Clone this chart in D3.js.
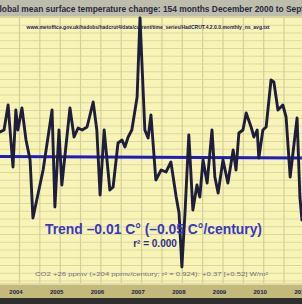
<!DOCTYPE html>
<html><head><meta charset="utf-8">
<script src="https://cdn.jsdelivr.net/npm/d3@7"></script>
<style>html,body{margin:0;padding:0;background:#fff;overflow:hidden}</style>
</head><body>
<svg id="c" width="302" height="304"></svg>
<script>
// ---- data ----
const years = [2003.52,2003.62,2003.72,2003.84,2003.91,2003.96,2004.06,2004.16,2004.26,2004.33,
  2004.58,2004.80,2004.87,2004.97,2005.04,2005.24,2005.34,2005.44,2005.54,2005.66,
  2005.81,2005.90,2005.98,2006.08,2006.22,2006.30,2006.42,2006.52,2006.59,2006.67,
  2006.76,2006.89,2006.96,2007.08,2007.16,2007.23,2007.35,2007.48,2007.60,2007.72,
  2007.85,2007.92,2007.99,2008.07,2008.16,2008.26,2008.36,2008.43,2008.51,2008.61,
  2008.73,2008.80,2008.88,2009.00,2009.12,2009.25,2009.32,2009.39,2009.49,2009.57,
  2009.69,2009.76,2009.84,2009.88,2009.98,2010.06,2010.18,2010.25,2010.35,2010.47,
  2010.55,2010.65,2010.82,2010.89,2010.94];
const anomalies = [0.450,0.454,0.504,0.380,0.494,0.454,0.498,0.434,0.394,0.278,
  0.374,0.494,0.300,0.454,0.344,0.498,0.440,0.458,0.454,0.460,
  0.510,0.454,0.324,0.454,0.334,0.340,0.428,0.434,0.420,0.440,
  0.454,0.520,0.678,0.454,0.438,0.484,0.354,0.374,0.370,0.390,
  0.320,0.288,0.180,0.294,0.444,0.294,0.344,0.320,0.394,0.348,
  0.454,0.360,0.328,0.394,0.348,0.414,0.374,0.448,0.454,0.488,
  0.460,0.440,0.454,0.398,0.454,0.460,0.554,0.550,0.494,0.504,
  0.480,0.360,0.478,0.320,0.274];
const yearLabels = ["2004","2005","2006","2007","2008","2009","2010","2011"];
const trendYears = [2003.52, 2010.94];
const trendValues = [0.401, 0.398];
const titleText = "Global mean surface temperature change: 154 months December 2000 to September 2013";
const sourceText = "www.metoffice.gov.uk/hadobs/hadcrut4/data/current/time_series/HadCRUT.4.2.0.0.monthly_ns_avg.txt";
const trendText = "Trend \u20130.01 C\u00B0 (\u20130.05 C\u00B0/century)";
const r2Text = "r\u00B2 = 0.000";
const co2Text = "CO2 +26 ppmv (+204 ppmv/century; r\u00B2 = 0.924): +0.37 [+0.52] W/m\u00B2";

// ---- layout ----
const W = 302, H = 304;
const plotTop = 17, plotBottom = 283, bandBottom = 298;
const svg = d3.select("#c");
const x = d3.scaleLinear().domain([2004, 2011]).range([19.5, 304.4]);
const y = d3.scaleLinear().domain([0, 0.6]).range([357, 57]);

// backgrounds
svg.append("rect").attr("x",0).attr("y",0).attr("width",W).attr("height",plotTop).attr("fill","#bdbcad");
svg.append("rect").attr("x",0).attr("y",plotTop).attr("width",W).attr("height",plotBottom-plotTop).attr("fill","#f8f4b6");
svg.append("rect").attr("x",0).attr("y",plotBottom).attr("width",W).attr("height",bandBottom-plotBottom).attr("fill","#c2b97b");
svg.append("rect").attr("x",0).attr("y",plotBottom).attr("width",W).attr("height",2).attr("fill","#e0daa6");
svg.append("rect").attr("x",0).attr("y",bandBottom).attr("width",W).attr("height",H-bandBottom).attr("fill","#2e2e2e");
svg.append("rect").attr("x",0).attr("y",plotTop-1).attr("width",W).attr("height",1.5).attr("fill","#d8d3a0");

// grid
const grid = svg.append("g");
const yStep = 0.0155;
const yGrid = d3.range(0.40, y.invert(plotTop), yStep).concat(d3.range(0.40 - yStep, y.invert(plotBottom), -yStep));
grid.selectAll("line.h").data(yGrid).join("line").attr("class","h")
  .attr("x1",0).attr("x2",W).attr("y1",d=>y(d)).attr("y2",d=>y(d))
  .attr("stroke","#dcd7a2").attr("stroke-width",1);
const xGrid = d3.range(2003.5, 2011.01, 0.5);
grid.selectAll("line.v").data(xGrid).join("line").attr("class","v")
  .attr("x1",d=>x(d)).attr("x2",d=>x(d)).attr("y1",plotTop).attr("y2",plotBottom)
  .attr("stroke","#d4cf98").attr("stroke-width",1.2);

// title (cropped at both edges as in the reference)
const t = svg.append("text").attr("x",0).attr("y",12)
  .attr("font-family","Liberation Sans, Arial, sans-serif").attr("font-weight","bold")
  .attr("font-size",8.5).attr("fill","#2a2a3e").text(titleText);
const node = t.node();
const gW = node.getSubStringLength(0,1);
const endIdx = titleText.indexOf("Sep") + 3;
const visW = node.getSubStringLength(1, endIdx-1);
const f = 302 / visW;
t.attr("transform", `translate(${0.5 - gW*f - 1},0) scale(${f},1)`);

// source line
svg.append("text").attr("x",148).attr("y",29).attr("text-anchor","middle")
  .attr("font-family","Liberation Sans, Arial, sans-serif").attr("font-weight","bold")
  .attr("font-size",5.2).attr("fill","#22224a")
  .attr("textLength",243).attr("lengthAdjust","spacingAndGlyphs").text(sourceText);

// trend line
const lineGen = d3.line().x(d=>x(d[0])).y(d=>y(d[1]));
svg.append("path").datum(d3.zip(trendYears, trendValues)).attr("d", lineGen)
  .attr("fill","none").attr("stroke","#1e1ec0").attr("stroke-width",3);

// data line
svg.append("path").datum(d3.zip(years, anomalies)).attr("d", lineGen)
  .attr("fill","none").attr("stroke","#1e1e3c").attr("stroke-width",2.9)
  .attr("stroke-linejoin","round").attr("stroke-linecap","round");

// annotations
svg.append("text").attr("x",153.5).attr("y",234).attr("text-anchor","middle")
  .attr("font-family","Liberation Sans, Arial, sans-serif").attr("font-weight","bold")
  .attr("font-size",14).attr("fill","#3838c4")
  .attr("textLength",217).attr("lengthAdjust","spacingAndGlyphs").text(trendText);
svg.append("text").attr("x",155).attr("y",247).attr("text-anchor","middle")
  .attr("font-family","Liberation Sans, Arial, sans-serif").attr("font-weight","bold")
  .attr("font-size",10).attr("fill","#2c2c96").text(r2Text);
svg.append("text").attr("x",151.5).attr("y",276).attr("text-anchor","middle")
  .attr("font-family","Liberation Sans, Arial, sans-serif")
  .attr("font-size",5.5).attr("fill","#707080")
  .attr("textLength",233).attr("lengthAdjust","spacingAndGlyphs").text(co2Text);

// x axis labels
const xAxis = d3.axisBottom(x).tickValues(yearLabels.map(Number)).tickFormat((d,i)=>yearLabels[i]).tickSize(0);
const ax = svg.append("g").attr("transform",`translate(-4,${plotBottom+3})`).call(xAxis);
ax.select(".domain").remove();
ax.selectAll("text").attr("font-family","Liberation Sans, Arial, sans-serif").attr("font-weight","bold")
  .attr("font-size",6).attr("fill","#1c1c4c").attr("dy","0.9em");
</script>
</body></html>
